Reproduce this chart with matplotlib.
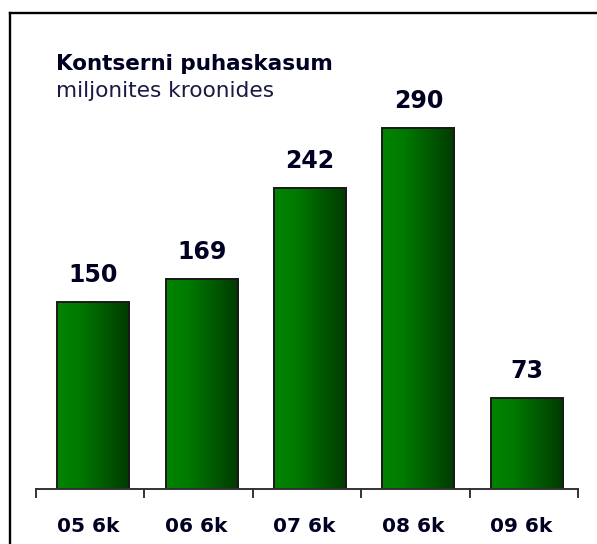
import matplotlib
matplotlib.use("Agg")
import matplotlib.pyplot as plt
import numpy as np
from matplotlib.lines import Line2D
from matplotlib.colors import LinearSegmentedColormap

categories = ["05 6k", "06 6k", "07 6k", "08 6k", "09 6k"]
values = [150, 169, 242, 290, 73]
title = "Kontserni puhaskasum"
subtitle = "miljonites kroonides"

W, H = 597, 544
fig = plt.figure(figsize=(W / 100, H / 100), dpi=100)

# frame (top and left edges visible, extends beyond the image)
fig.add_artist(Line2D([10 / W, 1.05], [1 - 13 / H, 1 - 13 / H], transform=fig.transFigure,
                      color="black", lw=1.7))
fig.add_artist(Line2D([10 / W, 10 / W], [1 - 13 / H, -0.05], transform=fig.transFigure,
                      color="black", lw=1.7))

ax_left, ax_right = 36 / W, 578 / W
cat_px = (578 - 36) / len(categories)
base_y = 489
ymax = 330
px_per_unit = 1.245
ax_top = base_y - ymax * px_per_unit
ax = fig.add_axes([ax_left, 1 - base_y / H, ax_right - ax_left, (base_y - ax_top) / H])
ax.axis("off")

cmap = LinearSegmentedColormap.from_list(
    "g", [(0.0, "#008400"), (0.3, "#007a00"), (0.65, "#005a00"), (1.0, "#003a00")])
grad = np.linspace(0, 1, 256).reshape(1, -1)
bw = 0.665
x = np.arange(len(categories))
xb = x + 3 / cat_px
bars = ax.bar(xb, values, width=bw, color="none", edgecolor="#1a1a1a", linewidth=1.4, zorder=3)
for b in bars:
    x0, w, h = b.get_x(), b.get_width(), b.get_height()
    ax.imshow(grad, extent=[x0, x0 + w, 0, h], aspect="auto", cmap=cmap, zorder=2,
              interpolation="bilinear")
ax.set_xlim(-0.5, len(categories) - 0.5)
ax.set_ylim(0, ymax)

txtc = "#000022"
for xi, v in zip(xb, values):
    ax.text(xi, v + 27 / px_per_unit, str(v), ha="center", va="center", fontsize=17,
            fontweight="bold", color=txtc, zorder=4)

# baseline and ticks
ax.plot([-0.5, len(categories) - 0.5], [0, 0], color="#333333", lw=1.4, zorder=4, clip_on=False)
tick_len = 8 / px_per_unit
for t in np.arange(-0.5, len(categories), 1.0):
    ax.plot([t, t], [0, -tick_len], color="#333333", lw=1.4, zorder=4, clip_on=False)

for xi, c in zip(x, categories):
    fig.text((36 + (xi + 0.5) * cat_px - 2.5) / W, 1 - 527 / H, c, ha="center", va="center",
             fontsize=14.5, fontweight="bold", color=txtc)

fig.text(56 / W, 1 - 64 / H, title, ha="left", va="center", fontsize=15.5, fontweight="bold",
         color=txtc)
fig.text(56 / W, 1 - 91 / H, subtitle, ha="left", va="center", fontsize=15.6, color="#1a1a44")

fig.savefig("out.png", dpi=100)
